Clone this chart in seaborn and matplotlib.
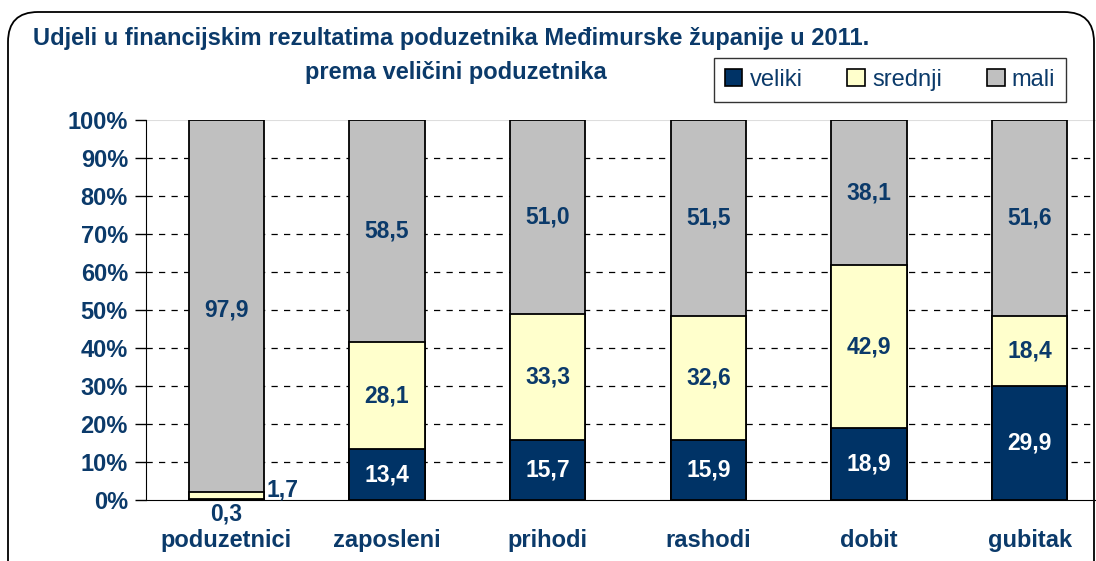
import numpy as np
import pandas as pd
import matplotlib
matplotlib.use('Agg')
import matplotlib.pyplot as plt
import seaborn as sns
from matplotlib.patches import Patch, FancyBboxPatch

# data (percent shares)
categories = ['poduzetnici', 'zaposleni', 'prihodi', 'rashodi', 'dobit', 'gubitak']
veliki = [0.3, 13.4, 15.7, 15.9, 18.9, 29.9]
srednji = [1.7, 28.1, 33.3, 32.6, 42.9, 18.4]
mali = [97.9, 58.5, 51.0, 51.5, 38.1, 51.6]

txt = '#0B3A6A'
colors = {'veliki': '#003366', 'srednji': '#FFFFCC', 'mali': '#C0C0C0'}

sns.set_style('white')
plt.rcParams['font.family'] = ['Liberation Sans', 'DejaVu Sans']

df = pd.DataFrame({'cat': categories, 'veliki': veliki, 'srednji': srednji, 'mali': mali})
df['vs'] = df['veliki'] + df['srednji']
df['total'] = df['vs'] + df['mali']

fig = plt.figure(figsize=(10.96, 5.61), dpi=100)
ax = fig.add_axes([146 / 1096, 61 / 561, 964 / 1096, 380 / 561])

w = 0.47
# layered cumulative bars
sns.barplot(data=df, x='cat', y='total', color=colors['mali'], width=w, edgecolor='black',
            linewidth=1.3, saturation=1, ax=ax, zorder=3)
sns.barplot(data=df, x='cat', y='vs', color=colors['srednji'], width=w, edgecolor='black',
            linewidth=1.3, saturation=1, ax=ax, zorder=4)
sns.barplot(data=df, x='cat', y='veliki', color=colors['veliki'], width=w, edgecolor='black',
            linewidth=1.3, saturation=1, ax=ax, zorder=5)

ax.set_xlim(-0.5, 5.5)
ax.set_ylim(0, 100)
ax.set_xlabel('')
ax.set_ylabel('')
ax.set_yticks(np.arange(0, 101, 10))
ax.set_yticklabels([f'{v}%' for v in range(0, 101, 10)])
for y in range(10, 100, 10):
    ax.axhline(y, color='black', linestyle=(0, (5, 5)), linewidth=0.9, zorder=1)
ax.axhline(100, color='#dddddd', linewidth=0.8, zorder=1)

for s in ['top', 'right']:
    ax.spines[s].set_visible(False)
ax.spines['left'].set_color('black')
ax.spines['bottom'].set_color('black')
ax.tick_params(axis='y', direction='out', length=8, width=1, color='black', pad=5,
               labelsize=17, labelcolor=txt, left=True)
ax.set_xticks(range(len(categories)))
ax.set_xticklabels(categories)
ax.tick_params(axis='x', length=0, pad=21, labelsize=17, labelcolor=txt)
ax.set_xticks(np.arange(-0.5, 6, 1), minor=True)
ax.tick_params(axis='x', which='minor', direction='out', length=8, width=1, color='black')
for lab in ax.get_xticklabels() + ax.get_yticklabels():
    lab.set_fontweight('bold')

# value labels
lab_kw = dict(ha='center', va='center', fontsize=16.5, fontweight='bold', color=txt, zorder=6)
for i in range(len(categories)):
    if i == 0:
        ax.text(i, -3.8, f'{veliki[i]:.1f}'.replace('.', ','), **lab_kw)
        ax.text(i + 0.35, 2.7, f'{srednji[i]:.1f}'.replace('.', ','), **lab_kw)
        ax.text(i, 50, f'{mali[i]:.1f}'.replace('.', ','), **lab_kw)
        continue
    ax.text(i, veliki[i] / 2, f'{veliki[i]:.1f}'.replace('.', ','), **{**lab_kw, 'color': 'white'})
    ax.text(i, veliki[i] + srednji[i] / 2, f'{srednji[i]:.1f}'.replace('.', ','), **lab_kw)
    ax.text(i, veliki[i] + srednji[i] + mali[i] / 2, f'{mali[i]:.1f}'.replace('.', ','), **lab_kw)

# title
fig.text(33 / 1096, 1 - 38 / 561, 'Udjeli u financijskim rezultatima poduzetnika Međimurske županije u 2011.',
         ha='left', va='center', fontsize=17, fontweight='bold', color=txt)
fig.text(456 / 1096, 1 - 72 / 561, 'prema veličini poduzetnika',
         ha='center', va='center', fontsize=17, fontweight='bold', color=txt)

# legend
handles = [Patch(facecolor=colors[k], edgecolor='black', linewidth=1.2, label=k)
           for k in ['veliki', 'srednji', 'mali']]
leg = fig.legend(handles=handles, ncol=3, loc='center', bbox_to_anchor=(890 / 1096, 1 - 80 / 561),
                 frameon=True, fancybox=False, edgecolor='black', fontsize=17,
                 handlelength=0.75, handleheight=0.75, handletextpad=0.3, columnspacing=1.9,
                 borderpad=0.45, borderaxespad=0)
leg.get_frame().set_linewidth(1.0)
for t in leg.get_texts():
    t.set_color(txt)

# rounded outer border
border = FancyBboxPatch((0.08, -0.4), 10.86, 5.89, boxstyle='round,pad=0,rounding_size=0.3',
                        transform=fig.dpi_scale_trans, facecolor='none', edgecolor='black',
                        linewidth=1.3, clip_on=False)
fig.patches.append(border)

fig.savefig('out.png', dpi=100)
